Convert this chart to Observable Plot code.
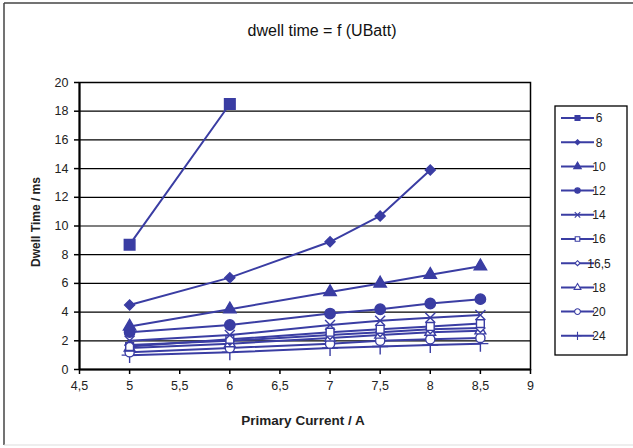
<!DOCTYPE html>
<html>
<head>
<meta charset="utf-8">
<script src="https://cdn.jsdelivr.net/npm/d3@7"></script>
<script src="https://cdn.jsdelivr.net/npm/@observablehq/plot@0.6"></script>
<style>
  html, body { margin: 0; padding: 0; background: #fff; }
  #chart { width: 633px; height: 448px; position: relative; }
  svg { font-family: "Liberation Sans", Arial, sans-serif; }
</style>
</head>
<body>
<div id="chart"></div>
<script>
// Primary current (A)
const currents = [5, 6, 7, 7.5, 8, 8.5];
// Series names (battery voltage)
const seriesNames = ["6", "8", "10", "12", "14", "16", "16,5", "18", "20", "24"];
// Dwell time (ms) per series, aligned with currents (null = no point)
const s6   = [8.7, 18.5, null, null, null, null];
const s8   = [4.5, 6.4, 8.9, 10.7, 13.9, null];
const s10  = [3.0, 4.2, 5.4, 6.0, 6.6, 7.2];
const s12  = [2.6, 3.1, 3.9, 4.2, 4.6, 4.9];
const s14  = [2.0, 2.4, 3.1, 3.4, 3.6, 3.8];
const s16  = [1.6, 2.1, 2.6, 2.8, 3.0, 3.2];
const s165 = [1.7, 2.0, 2.4, 2.6, 2.8, 2.9];
const s18  = [1.5, 1.8, 2.2, 2.4, 2.6, 2.7];
const s20  = [1.2, 1.5, 1.8, 2.0, 2.1, 2.2];
const s24  = [1.0, 1.2, 1.5, 1.6, 1.7, 1.8];
const xTicks = [4.5, 5, 5.5, 6, 6.5, 7, 7.5, 8, 8.5, 9];
const yTicks = [0, 2, 4, 6, 8, 10, 12, 14, 16, 18, 20];

const seriesValues = [s6, s8, s10, s12, s14, s16, s165, s18, s20, s24];
const blue = "#3a3da3";

// square-shaped diamond (rotated square)
const symDiamond = {
  draw(ctx, size) {
    const d = Math.sqrt(size / 2);
    ctx.moveTo(0, -d); ctx.lineTo(d, 0); ctx.lineTo(0, d); ctx.lineTo(-d, 0); ctx.closePath();
  }
};

// marker style per series
const styles = {
  "6":    {symbol: d3.symbolSquare,   fill: blue,   r: 6.0, lr: 2.8},
  "8":    {symbol: symDiamond,        fill: blue,   r: 4.0, lr: 2.0},
  "10":   {symbol: d3.symbolTriangle, fill: blue,   r: 4.6, lr: 2.8},
  "12":   {symbol: d3.symbolCircle,   fill: blue,   r: 5.2, lr: 2.7},
  "14":   {symbol: d3.symbolTimes,    fill: "none", r: 4.6, lr: 2.6},
  "16":   {symbol: d3.symbolSquare,   fill: "#fff", r: 4.4, lr: 2.6},
  "16,5": {symbol: symDiamond,        fill: "#fff", r: 3.6, lr: 2.0},
  "18":   {symbol: d3.symbolTriangle, fill: "#fff", r: 4.0, lr: 2.5},
  "20":   {symbol: d3.symbolCircle,   fill: "#fff", r: 4.6, lr: 2.9},
  "24":   {symbol: d3.symbolPlus,     fill: "none", r: 5.2, lr: 2.8}
};

const data = [];
seriesNames.forEach((name, i) => {
  currents.forEach((c, j) => {
    const v = seriesValues[i][j];
    if (v != null) data.push({series: name, current: c, time: v});
  });
});

const fmt = d => String(d).replace(".", ",");

const dotMarks = seriesNames.slice().reverse().map(name => {
  const st = styles[name];
  return Plot.dot(data.filter(d => d.series === name), {
    x: "current", y: "time",
    symbol: () => st.symbol,
    r: st.r,
    fill: st.fill,
    stroke: blue,
    strokeWidth: 1.4
  });
});

const plot = Plot.plot({
  width: 633,
  height: 448,
  marginLeft: 79,
  marginRight: 103,
  marginTop: 82,
  marginBottom: 79,
  style: {fontFamily: "'Liberation Sans', Arial, sans-serif", fontSize: "12.5px", color: "#222", background: "#fff"},
  x: {domain: [4.5, 9]},
  y: {domain: [0, 20]},
  symbol: {type: "identity"},
  marks: [
    Plot.gridY(yTicks, {stroke: "#000", strokeOpacity: 1, strokeWidth: 1.2}),
    Plot.line(data, {x: "current", y: "time", z: "series", stroke: blue, strokeWidth: 2}),
    ...dotMarks,
    Plot.frame({stroke: "#000", strokeWidth: 1.5}),
    Plot.axisX({ticks: xTicks, tickFormat: fmt, tickSize: 5, tickPadding: 7, label: null, stroke: "#000", strokeWidth: 1.5, fill: "#222"}),
    Plot.axisY({ticks: yTicks, tickFormat: fmt, tickSize: 5, tickPadding: 6, label: null, stroke: "#000", strokeWidth: 1.5, fill: "#222"}),
    Plot.ruleY([0], {stroke: "#000", strokeWidth: 2}),
    Plot.ruleX([4.5], {stroke: "#000", strokeWidth: 2})
  ]
});

document.getElementById("chart").appendChild(plot);

const svg = d3.select(plot);
// outer frame
svg.append("line").attr("x1", 4).attr("x2", 4).attr("y1", 3).attr("y2", 445).attr("stroke", "#444").attr("stroke-width", 1.5);
svg.append("line").attr("x1", 4).attr("x2", 633).attr("y1", 3).attr("y2", 3).attr("stroke", "#444").attr("stroke-width", 1.5);
svg.append("line").attr("x1", 4).attr("x2", 633).attr("y1", 445).attr("y2", 445).attr("stroke", "#ddd").attr("stroke-width", 1);

// title & axis titles
svg.append("text").attr("x", 322).attr("y", 36).attr("text-anchor", "middle")
  .attr("font-size", 16).attr("fill", "#111").text("dwell time = f (UBatt)");
svg.append("text").attr("x", 303).attr("y", 425).attr("text-anchor", "middle")
  .attr("font-size", 13.5).attr("font-weight", "bold").attr("fill", "#222").text("Primary Current / A");
svg.append("text").attr("transform", "translate(40,222) rotate(-90)").attr("text-anchor", "middle")
  .attr("font-size", 12).attr("font-weight", "bold").attr("fill", "#222").text("Dwell Time / ms");

// legend
const lg = svg.append("g");
lg.append("rect").attr("x", 555).attr("y", 106).attr("width", 72).attr("height", 249)
  .attr("fill", "#fff").attr("stroke", "#000").attr("stroke-width", 1.3);
seriesNames.forEach((name, i) => {
  const st = styles[name];
  const y = 118 + i * 24.2;
  lg.append("line").attr("x1", 561).attr("x2", 594).attr("y1", y).attr("y2", y)
    .attr("stroke", blue).attr("stroke-width", 2);
  lg.append("path").attr("transform", `translate(577.5,${y})`)
    .attr("d", d3.symbol(st.symbol, Math.PI * st.lr * st.lr)())
    .attr("fill", st.fill).attr("stroke", blue).attr("stroke-width", 1.1);
  lg.append("text").attr("x", 599).attr("y", y).attr("dy", "0.36em")
    .attr("font-size", 12).attr("fill", "#222").text(name);
});
</script>
</body>
</html>
